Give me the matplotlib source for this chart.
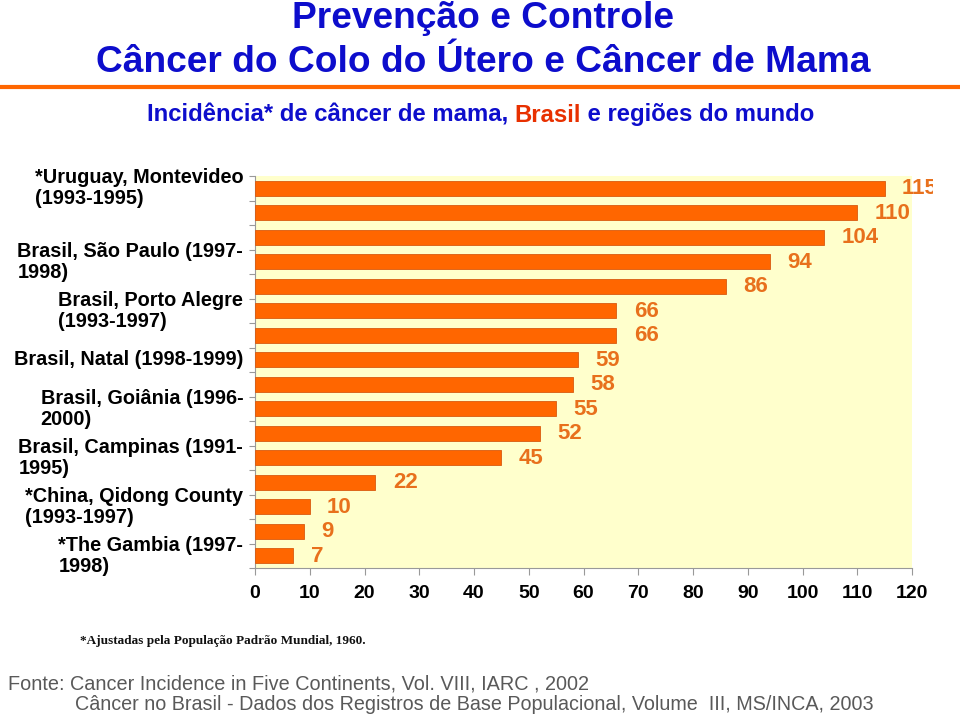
import matplotlib
matplotlib.use("Agg")
import matplotlib.pyplot as plt
from matplotlib.transforms import Bbox, TransformedBbox
from matplotlib.lines import Line2D
import numpy as np

# ---- data (top to bottom) ----
values = [115, 110, 104, 94, 86, 66, 66, 59, 58, 55, 52, 45, 22, 10, 9, 7]
label_texts = [
    "*Uruguay, Montevideo\n(1993-1995)",
    "Brasil, São Paulo (1997-\n1998)",
    "Brasil, Porto Alegre\n(1993-1997)",
    "Brasil, Natal (1998-1999)",
    "Brasil, Goiânia (1996-\n2000)",
    "Brasil, Campinas (1991-\n1995)",
    "*China, Qidong County\n(1993-1997)",
    "*The Gambia (1997-\n1998)",
]
label_index = [0, 3, 5, 7, 9, 11, 13, 15]
xticks = list(range(0, 121, 10))

FONT = ["Liberation Sans", "DejaVu Sans"]
plt.rcParams["font.family"] = FONT

W, H = 960, 717
fig = plt.figure(figsize=(W / 100, H / 100), dpi=100)
fig.patch.set_facecolor("white")

def fx(px):
    return px / W

def fy(py):
    return 1 - py / H

ax = fig.add_axes([fx(255), fy(568), fx(912) - fx(255), fy(176) - fy(568)])
ax.set_facecolor("#FFFFCC")

n = len(values)
ypos = np.arange(n)
ax.barh(ypos, values, height=0.62, color="#FF6600", edgecolor="#D85A10", linewidth=0.6, zorder=3)
ax.set_ylim(n - 0.5, -0.5)
ax.set_xlim(0, 120)

clip = TransformedBbox(Bbox.from_extents(0, 0, fx(933), 1), fig.transFigure)
for y, v in zip(ypos, values):
    t = ax.annotate(str(v), xy=(v, y), xytext=(12.5, -0.5), textcoords="offset points",
                    ha="left", va="center", fontsize=16, fontweight="bold",
                    color="#E8701C", annotation_clip=False, zorder=4)
    t.set_clip_on(True)
    t.set_clip_box(clip)

# axes styling
for s in ["top", "right"]:
    ax.spines[s].set_visible(False)
for s in ["left", "bottom"]:
    ax.spines[s].set_color("#999999")
    ax.spines[s].set_linewidth(0.8)

ax.set_xticks(xticks)
ax.set_xticklabels([str(x) for x in xticks], fontsize=14, fontweight="bold")
ax.tick_params(axis="x", direction="out", length=5, color="#999999", pad=7)
ax.set_yticks(np.arange(-0.5, n, 1.0))
ax.set_yticklabels([])
ax.tick_params(axis="y", direction="out", length=4, color="#999999")

ytr = ax.get_yaxis_transform()
for txt, idx in zip(label_texts, label_index):
    ax.text(-0.018, idx, txt, transform=ytr, ha="right", va="center",
            multialignment="left", fontsize=14.3, fontweight="bold",
            color="black", linespacing=1.12)

# titles
blue = "#0D0DCC"
fig.text(0.503, fy(18), "Prevenção e Controle", ha="center", va="center",
         fontsize=26.7, fontweight="bold", color=blue)
fig.text(0.503, fy(62), "Câncer do Colo do Útero e Câncer de Mama", ha="center", va="center",
         fontsize=26.7, fontweight="bold", color=blue)

fig.add_artist(Line2D([0, 1], [fy(87), fy(87)], transform=fig.transFigure,
                      color="#FF6600", linewidth=3))

# subtitle multi-colour
parts = [("Incidência* de câncer de mama, ", blue), ("Brasil", "#E83000"),
         (" e regiões do mundo", blue)]
renderer = fig.canvas.get_renderer()
texts = []
for s, c in parts:
    t = fig.text(0, fy(115), s, ha="left", va="center", fontsize=17.2,
                 fontweight="bold", color=c)
    texts.append(t)
widths = [t.get_window_extent(renderer).width for t in texts]
total = sum(widths)
x0 = 480.5 - total / 2
for t, w in zip(texts, widths):
    t.set_x(fx(x0))
    x0 += w

fig.text(fx(80), fy(641), "*Ajustadas pela População Padrão Mundial, 1960.",
         ha="left", va="center", fontsize=9.5, fontweight="bold",
         family=["Liberation Serif", "DejaVu Serif"], color="#111111")

gray = "#595959"
fig.text(fx(8), fy(684), "Fonte: Cancer Incidence in Five Continents, Vol. VIII, IARC , 2002",
         ha="left", va="center", fontsize=14.3, color=gray)
fig.text(fx(75), fy(705), "Câncer no Brasil - Dados dos Registros de Base Populacional, Volume  III, MS/INCA, 2003",
         ha="left", va="center", fontsize=14.2, color=gray)

fig.savefig("out.png", dpi=100)
